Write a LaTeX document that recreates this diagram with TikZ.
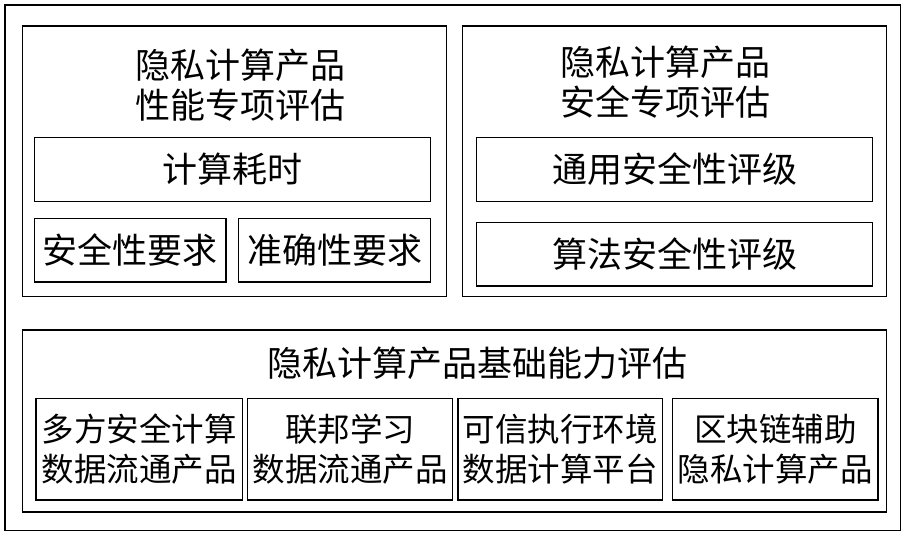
\documentclass[tikz,border=0pt]{standalone}
\usepackage{fontspec}
\newfontfamily\cjk{Noto Sans CJK SC}
\begin{document}
\begin{tikzpicture}[x=1pt,y=-1pt,
  frame/.style={draw, line width=1.6pt, inner sep=0pt, outer sep=0pt},
  group/.style={draw, line width=1.4pt, inner sep=0pt, outer sep=0pt},
  leaf/.style={draw, line width=1.3pt, inner sep=0pt, outer sep=0pt, align=center,
    font=\cjk\fontsize{35}{40}\selectfont},
  small/.style={leaf, font=\cjk\fontsize{32.5}{40}\selectfont},
  title/.style={inner sep=0pt, align=center, font=\cjk\fontsize{35}{40}\selectfont}]
\useasboundingbox (0,0) rectangle (907,537);
\node[frame, minimum width=895.5pt, minimum height=525.5pt] (outer) at (452.75,267.75) {};
% top-left group
\node[group, minimum width=424pt, minimum height=270.7pt] (tl) at (234.7,161.35) {};
\node[title] (tlt) at (240,85) {隐私计算产品\\性能专项评估};
\node[leaf, minimum width=396pt, minimum height=64pt] (ct) at (232.7,169.3) {计算耗时};
\node[leaf, minimum width=191.3pt, minimum height=63.3pt] (aq) at (130.35,250.35) {安全性要求};
\node[leaf, minimum width=192pt, minimum height=63.3pt] (zq) at (334.7,250.35) {准确性要求};
% top-right group
\node[group, minimum width=424pt, minimum height=270.7pt] (tr) at (674.7,161.35) {};
\node[title] (trt) at (665,82) {隐私计算产品\\安全专项评估};
\node[leaf, minimum width=396pt, minimum height=64pt] (ty) at (674.7,169.3) {通用安全性评级};
\node[leaf, minimum width=396pt, minimum height=63.3pt] (sf) at (674.7,254.35) {算法安全性评级};
% bottom group
\node[group, minimum width=864pt, minimum height=182pt] (bot) at (454.7,421) {};
\node[title] (bott) at (477.5,363) {隐私计算产品基础能力评估};
\node[small, minimum width=206.7pt, minimum height=101.3pt] (b1) at (139.35,449.35) {多方安全计算\\数据流通产品};
\node[small, minimum width=205.4pt, minimum height=101.3pt] (b2) at (350,449.35) {联邦学习\\数据流通产品};
\node[small, minimum width=204.7pt, minimum height=101.3pt] (b3) at (560.35,449.35) {可信执行环境\\数据计算平台};
\node[small, minimum width=205.3pt, minimum height=101.3pt] (b4) at (775.35,449.35) {区块链辅助\\隐私计算产品};
\end{tikzpicture}
\end{document}
